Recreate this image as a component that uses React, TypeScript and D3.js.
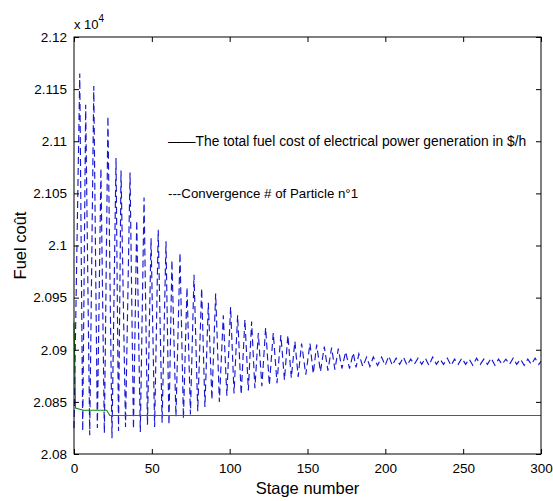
import React, { useRef, useEffect } from 'react'
import * as d3 from 'd3'

// fuel cost values are kept in $/h (axis shows them x 10^4)
const stageTicks = [0, 50, 100, 150, 200, 250, 300]
const costTicks = [20800, 20850, 20900, 20950, 21000, 21050, 21100, 21150, 21200]

// total fuel cost (green, solid)
const totalStages = [0, 1, 6, 21, 23, 300]
const totalCost = [20926, 20844, 20842, 20842, 20837, 20837]

// convergence of particle 1 (blue, dashed) read as turning points
const startStage = 0
const startCost = 20825
const endStage = 300
const endCost = 20889

const peakStages = [3.7, 7.5, 12.7, 17.3, 21.8, 27, 30.2, 36, 40.3, 45, 49.5, 54.1, 59.1, 62.9, 68.1, 72.6,
    77.1, 82, 86.3, 91, 95.9, 100.6, 105.1, 109.8, 114.1, 118.4, 123.1, 128, 132.9, 137.4, 141.9, 146.2,
    151.6, 155.9, 160.8, 165.5, 169.8, 174.5, 179.4, 183, 188, 192.3, 197.6, 202.2, 206.9, 211.6, 216.3,
    221, 225.7, 230.4, 235.1, 239.8, 244.5, 249.2, 253.9, 258.6, 263.3, 268, 272.7, 277.4, 282.1, 286.8,
    291.5, 296.2]
const peakCost = [21165, 21135, 21153, 21074, 21124, 21084, 21072, 21070, 21024, 21046, 21007, 21015, 21004,
    20986, 20993, 20960, 20972, 20959, 20945, 20954, 20933, 20941, 20933, 20929, 20927, 20916, 20921, 20916,
    20914, 20914, 20908, 20906, 20906, 20905, 20903, 20902, 20901, 20898, 20897, 20896, 20893, 20893, 20893,
    20894, 20892, 20893, 20891, 20892, 20892, 20893, 20891, 20892, 20891, 20892, 20891, 20892, 20891, 20892,
    20891, 20891, 20892, 20891, 20891, 20892]

const troughStages = [5.6, 10.1, 15, 19.5, 24.4, 28.6, 33.1, 38.2, 42.6, 47.2, 51.8, 56.6, 61, 65.5, 70.3,
    74.8, 79.5, 84.1, 88.6, 93.4, 98.2, 102.8, 107.4, 112, 116.2, 120.7, 125.5, 130.4, 135.2, 139.6, 144,
    148.9, 153.7, 158.3, 163.1, 167.6, 172.1, 177, 181.2, 185.5, 190.1, 195, 199.9, 204.5, 209.2, 214,
    218.6, 223.4, 228, 232.8, 237.4, 242.2, 246.8, 251.6, 256.2, 261, 265.6, 270.4, 275, 279.8, 284.4,
    289.2, 293.8, 298.6]
const troughCost = [20822, 20818, 20825, 20820, 20815, 20822, 20826, 20824, 20821, 20828, 20826, 20830, 20828,
    20836, 20834, 20838, 20841, 20845, 20852, 20850, 20856, 20858, 20857, 20861, 20863, 20865, 20866, 20868,
    20871, 20873, 20874, 20876, 20877, 20879, 20880, 20881, 20882, 20882, 20883, 20884, 20884, 20885, 20885,
    20885, 20886, 20885, 20886, 20886, 20885, 20886, 20886, 20885, 20886, 20886, 20885, 20886, 20886, 20885,
    20886, 20886, 20886, 20885, 20886, 20886]

const FONT = '"Liberation Sans", Arial, sans-serif'

export default function App() {
    const visEl = useRef<HTMLDivElement>(null)
    const width = 553
    const height = 501

    useEffect(() => {
        const root = d3.select(visEl.current)
        root.selectAll('*').remove()
        const svg = root.append('svg')
            .attr('width', width)
            .attr('height', height)
            .style('display', 'block')
            .style('background', '#fff')
            .style('font-family', FONT)

        const margin = { top: 37, right: 12, bottom: 47, left: 74 }
        const innerWidth = width - margin.left - margin.right
        const innerHeight = height - margin.top - margin.bottom

        const xScale = d3.scaleLinear().domain([0, 300]).range([0, innerWidth])
        const yScale = d3.scaleLinear().domain([20800, 21200]).range([innerHeight, 0])

        const g = svg.append('g').attr('transform', `translate(${margin.left},${margin.top})`)

        // blue particle curve
        const particle: [number, number][] = [[startStage, startCost]]
        peakStages.forEach((s, i) => particle.push([s, peakCost[i]]))
        troughStages.forEach((s, i) => particle.push([s, troughCost[i]]))
        particle.push([endStage, endCost])
        particle.sort((a, b) => a[0] - b[0])

        const line = d3.line<[number, number]>()
            .x(d => xScale(d[0]))
            .y(d => yScale(d[1]))

        g.append('path')
            .datum(particle)
            .attr('fill', 'none')
            .attr('stroke', '#1818d0')
            .attr('stroke-width', 1.15)
            .attr('stroke-dasharray', '7,4')
            .attr('d', line)

        const total: [number, number][] = totalStages.map((s, i) => [s, totalCost[i]])
        g.append('path')
            .datum(total)
            .attr('fill', 'none')
            .attr('stroke', '#108a10')
            .attr('stroke-width', 1.1)
            .attr('d', line)

        // axes, matlab style: ticks inside on all 4 sides
        const tickFont = 13.5
        const yFmt = (d: number) => String(+(d / 1e4).toFixed(3))

        const xAxis = d3.axisBottom(xScale).tickValues(stageTicks).tickSize(-5).tickPadding(9)
        const xAxisG = g.append('g').attr('transform', `translate(0,${innerHeight})`).call(xAxis)
        xAxisG.select('.domain').remove()
        xAxisG.selectAll('text').attr('font-size', tickFont).attr('font-family', FONT).attr('fill', '#000')

        const yAxis = d3.axisLeft(yScale).tickValues(costTicks).tickFormat(yFmt as any).tickSize(-5).tickPadding(7)
        const yAxisG = g.append('g').call(yAxis)
        yAxisG.select('.domain').remove()
        yAxisG.selectAll('text').attr('font-size', tickFont).attr('font-family', FONT).attr('fill', '#000')

        const topG = g.append('g').call(d3.axisTop(xScale).tickValues(stageTicks).tickSize(-5).tickFormat(() => ''))
        topG.select('.domain').remove()
        const rightG = g.append('g').attr('transform', `translate(${innerWidth},0)`)
            .call(d3.axisRight(yScale).tickValues(costTicks).tickSize(-5).tickFormat(() => ''))
        rightG.select('.domain').remove()

        g.append('rect')
            .attr('width', innerWidth)
            .attr('height', innerHeight)
            .attr('fill', 'none')
            .attr('stroke', '#000')
            .attr('stroke-width', 1)

        // exponent
        const expo = svg.append('text').attr('x', margin.left).attr('y', 29).attr('font-size', 13).attr('fill', '#000')
        expo.append('tspan').text('x 10')
        expo.append('tspan').attr('dy', -7).attr('font-size', 10).text('4')

        // axis labels
        svg.append('text')
            .attr('x', margin.left + innerWidth / 2)
            .attr('y', 494)
            .attr('text-anchor', 'middle')
            .attr('font-size', 16.5)
            .attr('fill', '#000')
            .text('Stage number')

        svg.append('text')
            .attr('transform', `translate(26,${margin.top + innerHeight / 2}) rotate(-90)`)
            .attr('text-anchor', 'middle')
            .attr('font-size', 16.5)
            .attr('fill', '#000')
            .text('Fuel coût')

        // annotations
        g.append('text')
            .attr('x', 168 - margin.left)
            .attr('y', yScale(21100) + 5)
            .attr('font-size', 13.8)
            .attr('fill', '#000')
            .text('——The total fuel cost of electrical power generation in $/h')

        g.append('text')
            .attr('x', 168 - margin.left)
            .attr('y', yScale(21050) + 5)
            .attr('font-size', 13.3)
            .attr('fill', '#000')
            .text('---Convergence # of Particle n°1')
    }, [])

    return (
        <div style={{ position: 'absolute', left: 0, top: 0 }}>
            <div ref={visEl}></div>
        </div>
    )
}
